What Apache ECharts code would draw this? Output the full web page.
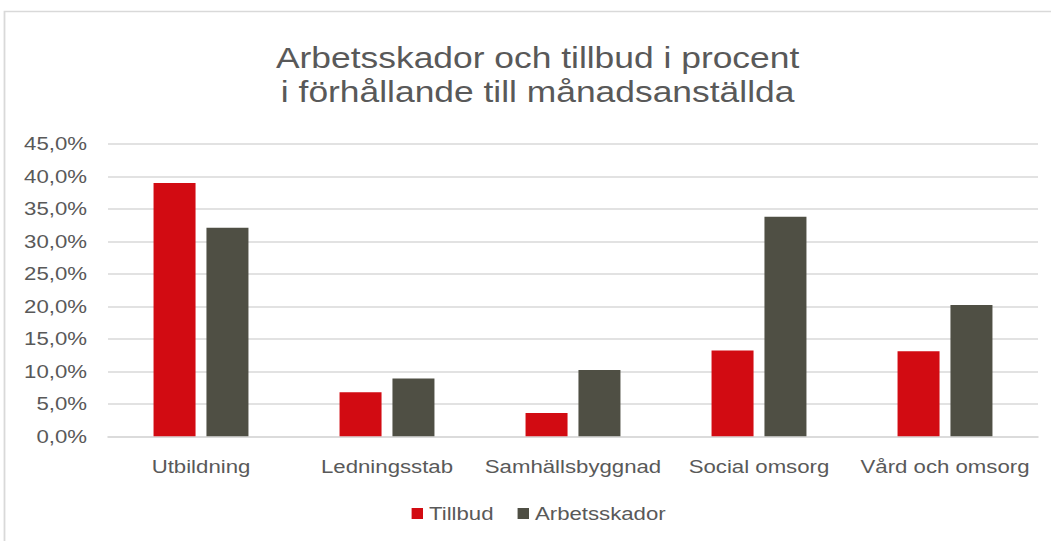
<!DOCTYPE html>
<html>
<head>
<meta charset="utf-8">
<script src="https://cdn.jsdelivr.net/npm/echarts@6/dist/echarts.min.js"></script>
<style>
  html, body { margin: 0; padding: 0; background: #ffffff; overflow: hidden; }
  #wrap { width: 1051px; height: 541px; overflow: hidden; }
  /* The chart is laid out on a narrower canvas and widened horizontally */
  #chart { width: 875.83px; height: 541px; transform: scaleX(1.2); transform-origin: 0 0; }
</style>
</head>
<body>
<div id="wrap"><div id="chart"></div></div>
<script>
// Verksamhetsområden
const categories = ['Utbildning', 'Ledningsstab', 'Samhällsbyggnad', 'Social omsorg', 'Vård och omsorg'];
// Andel i procent
const tillbud = [39.0, 6.8, 3.6, 13.2, 13.1];
const arbetsskador = [32.1, 8.9, 10.2, 33.8, 20.2];
const seriesNames = ['Tillbud', 'Arbetsskador'];

const textColor = '#595959';
const lineColor = '#d9d9d9';
const font = '"Liberation Sans", Arial, sans-serif';
const W = 1051 / 1.2;

const chart = echarts.init(document.getElementById('chart'), null, {
  renderer: 'svg', width: W, height: 541
});
chart.setOption({
  backgroundColor: '#ffffff',
  animation: false,
  textStyle: { fontFamily: font },
  graphic: [{
    type: 'rect',
    shape: { x: 3.75, y: 11.5, width: 1200, height: 700 },
    style: { fill: 'none', stroke: lineColor, lineWidth: 1.5 },
    silent: true
  }],
  title: {
    text: 'Arbetsskador och tillbud i procent\ni förhållande till månadsanställda',
    left: 443,
    top: 36,
    textAlign: 'center',
    textStyle: {
      fontFamily: font,
      fontSize: 29.5,
      fontWeight: 'normal',
      color: textColor,
      lineHeight: 34
    }
  },
  legend: {
    data: seriesNames,
    left: 338,
    top: 499,
    icon: 'rect',
    itemWidth: 9.5,
    itemHeight: 11,
    itemGap: 20,
    textStyle: { fontFamily: font, fontSize: 18.5, color: textColor }
  },
  grid: { left: 90, right: W - 865, top: 144, bottom: 104.7, containLabel: false },
  xAxis: {
    type: 'category',
    data: categories,
    axisLine: { show: true, lineStyle: { color: lineColor, width: 1.5 } },
    axisTick: { show: false },
    axisLabel: { fontFamily: font, fontSize: 18.5, color: textColor, margin: 21, interval: 0 }
  },
  yAxis: {
    type: 'value',
    min: 0,
    max: 45,
    interval: 5,
    axisLine: { show: false },
    axisTick: { show: false },
    splitLine: { show: true, lineStyle: { color: lineColor, width: 1.5 } },
    axisLabel: {
      fontFamily: font,
      fontSize: 18.5,
      color: textColor,
      margin: 17.5,
      formatter: v => v.toFixed(1).replace('.', ',') + '%'
    }
  },
  series: [
    {
      name: seriesNames[0],
      type: 'bar',
      data: tillbud,
      barWidth: 35,
      barGap: '26%',
      itemStyle: { color: '#D20B12' }
    },
    {
      name: seriesNames[1],
      type: 'bar',
      data: arbetsskador,
      barWidth: 35,
      barGap: '26%',
      itemStyle: { color: '#4F4F44' }
    }
  ]
});
</script>
</body>
</html>
